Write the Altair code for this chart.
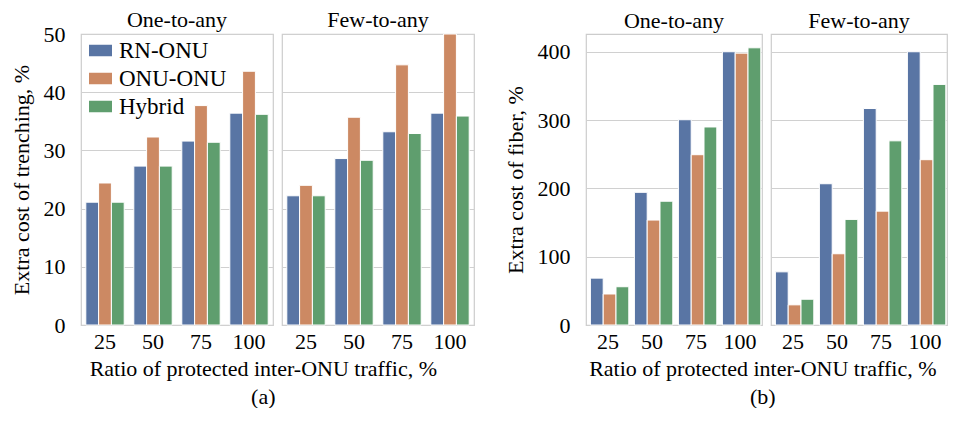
import altair as alt
import pandas as pd

FONT = "Liberation Serif"

ratios = ["25", "50", "75", "100"]
schemes = ["RN-ONU", "ONU-ONU", "Hybrid"]
scenarios = ["One-to-any", "Few-to-any"]
colors = ["#5975a4", "#cc8963", "#5f9e6e"]

# (a) Extra cost of trenching, %
trench_one_rn = [21.1, 27.3, 31.6, 36.4]
trench_one_onu = [24.4, 32.3, 37.7, 43.6]
trench_one_hyb = [21.1, 27.3, 31.4, 36.2]
trench_few_rn = [22.2, 28.6, 33.2, 36.4]
trench_few_onu = [24.0, 35.7, 44.7, 50.0]
trench_few_hyb = [22.2, 28.3, 32.9, 35.9]

# (b) Extra cost of fiber, %
fiber_one_rn = [68.6, 194.2, 300.5, 400.0]
fiber_one_onu = [45.4, 153.6, 249.3, 398.0]
fiber_one_hyb = [56.0, 181.2, 289.9, 405.8]
fiber_few_rn = [77.8, 206.8, 316.9, 400.0]
fiber_few_onu = [29.5, 104.3, 166.7, 242.0]
fiber_few_hyb = [37.7, 154.6, 269.6, 352.2]

trench_ticks = [0, 10, 20, 30, 40, 50]
fiber_ticks = [0, 100, 200, 300, 400]


def build(series_by_scenario):
    rows = []
    for scen, series in zip(scenarios, series_by_scenario):
        for scheme, vals in zip(schemes, series):
            for r, v in zip(ratios, vals):
                rows.append({"scenario": scen, "scheme": scheme, "ratio": r, "value": v})
    return pd.DataFrame(rows)


df_a = build([[trench_one_rn, trench_one_onu, trench_one_hyb],
              [trench_few_rn, trench_few_onu, trench_few_hyb]])
df_b = build([[fiber_one_rn, fiber_one_onu, fiber_one_hyb],
              [fiber_few_rn, fiber_few_onu, fiber_few_hyb]])


def panel(df, ytitle, ymax, yticks, cell_w, caption, title_dx, show_legend):
    if show_legend:
        leg = alt.Legend(
            title=None, orient="none", legendX=8, legendY=5,
            labelFont=FONT, labelFontSize=23, labelColor="black",
            symbolType="M-1,-0.5H1V0.5H-1Z", symbolSize=529,
            symbolStrokeWidth=0, symbolOpacity=1, labelOffset=7, rowPadding=4,
        )
    else:
        leg = None
    base = alt.Chart(df).mark_bar(stroke="white", strokeWidth=1).encode(
        x=alt.X("ratio:N", sort=ratios, title=None,
                scale=alt.Scale(paddingInner=0.2, paddingOuter=0.1),
                axis=alt.Axis(labelAngle=0, ticks=False, domain=False, grid=False,
                              labelPadding=4, labelFont=FONT, labelFontSize=22,
                              labelColor="black")),
        xOffset=alt.XOffset("scheme:N", sort=schemes),
        y=alt.Y("value:Q", title=ytitle,
                scale=alt.Scale(domain=[0, ymax], nice=False),
                axis=alt.Axis(values=yticks, ticks=False, domain=False,
                              labelPadding=15, labelFont=FONT, labelFontSize=22,
                              labelColor="black", titleFont=FONT, titleFontSize=22,
                              titleFontWeight="normal", titleColor="black",
                              titlePadding=10, gridColor="#d0d0d0")),
        color=alt.Color("scheme:N", sort=schemes,
                        scale=alt.Scale(domain=schemes, range=colors), legend=leg),
    ).properties(width=cell_w, height=291)
    return base.facet(
        column=alt.Column("scenario:N", sort=scenarios, title=None,
                          header=alt.Header(labelFont=FONT, labelFontSize=22,
                                            labelColor="black", labelPadding=0)),
        spacing=7,
    ).properties(
        title=alt.TitleParams(text=["Ratio of protected inter-ONU traffic, %", caption],
                              orient="bottom", anchor="middle", font=FONT,
                              fontSize=22, fontWeight="normal", color="black",
                              lineHeight=28, offset=7, dx=title_dx)
    )


chart_a = panel(df_a, "Extra cost of trenching, %", 50, trench_ticks, 192, "(a)", 21, True)
chart_b = panel(df_b, "Extra cost of fiber, %", 426, fiber_ticks, 176, "(b)", 37, False)

chart = alt.hconcat(chart_a, chart_b, spacing=29).resolve_legend(
    color="independent"
).configure_view(stroke="#cccccc", strokeWidth=1.2).properties(
    padding={"left": 2, "top": 1, "right": 2, "bottom": 0}
)

chart.save("out.html", embed_options={"renderer": "svg", "actions": False})
